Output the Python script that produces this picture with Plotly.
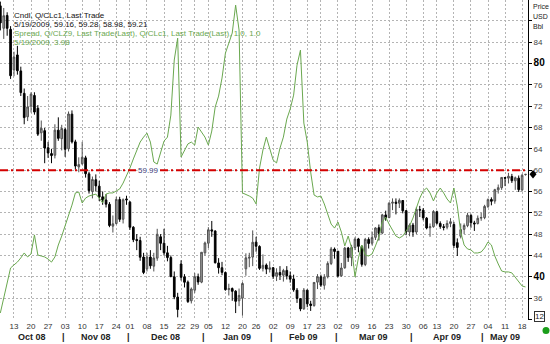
import math
import pandas as pd
import plotly.graph_objects as go

# ---------------- data ----------------
holidays = ["2008-11-27", "2008-12-25", "2009-01-01", "2009-01-19", "2009-02-16", "2009-04-10"]
dates = [d.strftime("%Y-%m-%d") for d in pd.bdate_range("2008-10-07", "2009-05-19")
         if d.strftime("%Y-%m-%d") not in holidays]

opens = [
    90.8, 86.6, 89.0, 86.4, 78.8, 81.6, 78.6, 74.4, 70.0, 72.0, 74.0, 71.6, 67.0, 67.4, 64.2, 63.1, 62.8, 67.5, 65.9,
    67.6, 64.0, 70.5, 65.3, 60.6, 61.2, 62.3, 59.3, 56.0, 58.2, 57.0, 55.0, 54.4, 53.6, 49.5, 50.0, 54.5, 50.8, 54.6,
    54.0, 49.3, 47.0, 46.8, 43.7, 41.5, 43.7, 42.0, 43.5, 47.5, 46.3, 44.5, 43.6, 40.0, 36.2, 42.4, 40.0, 39.0, 35.5, 37.5, 40.0, 39.0,
    44.5, 46.3, 48.8, 48.6, 42.6, 41.7, 40.8, 37.6, 37.8, 37.3, 35.5, 36.0, 41.5, 43.5, 43.7, 46.5, 45.7, 41.6, 42.2, 41.4,
    41.7, 40.1, 40.8, 40.3, 41.2, 40.2, 39.6, 37.5, 35.9, 34.0, 37.5, 34.9, 34.6, 39.0, 40.0, 38.4, 40.0, 42.5, 45.2,
    44.8, 40.2, 41.7, 45.4, 43.6, 45.5, 47.1, 45.7, 42.3, 47.0, 46.3, 47.4, 49.2, 48.2, 51.6, 51.1, 53.8, 54.0, 53.8, 54.3, 52.4, 48.4,
    49.7, 48.4, 52.6, 52.5, 51.0, 49.2, 49.4, 52.2, 50.0, 49.4, 49.3, 50.0, 49.8, 46.4, 47.6, 48.9, 49.6, 51.5, 50.1, 50.0, 51.0,
    51.1, 53.2, 54.5, 54.2, 56.3, 56.7, 58.6, 58.5, 58.8, 58.0, 58.5, 56.3, 59.16,
]
highs = [
    91.6, 90.4, 89.6, 87.0, 82.2, 83.3, 79.4, 75.3, 73.9, 74.6, 74.6, 72.2, 69.3, 67.9, 65.3, 64.0, 68.6, 69.9, 68.5,
    67.9, 71.0, 71.2, 65.7, 62.4, 65.3, 62.7, 59.7, 58.8, 59.2, 58.0, 56.0, 55.5, 54.0, 51.5, 55.0, 55.0, 54.7, 55.2,
    54.2, 49.5, 48.0, 47.5, 44.5, 44.5, 45.0, 44.5, 49.0, 48.0, 49.0, 45.8, 44.0, 41.0, 37.0, 43.1, 40.5, 39.3, 38.0, 40.7, 40.6, 44.6,
    46.6, 49.3, 50.47, 48.7, 43.5, 42.8, 41.0, 38.7, 38.0, 37.5, 37.8, 39.0, 44.4, 44.5, 48.7, 47.5, 45.9, 44.2, 42.5, 42.9,
    41.8, 41.6, 42.0, 41.5, 42.0, 41.0, 40.4, 37.9, 36.0, 37.9, 37.6, 35.5, 39.0, 40.5, 40.4, 40.5, 42.9, 45.6, 45.5,
    44.8, 42.6, 45.6, 45.6, 46.0, 47.4, 47.3, 45.9, 47.3, 47.4, 48.5, 49.3, 49.8, 51.8, 52.4, 54.0, 54.7, 54.7, 54.7, 54.4, 52.5, 50.0,
    50.1, 53.1, 53.3, 52.9, 51.2, 50.0, 52.5, 52.4, 50.4, 49.9, 50.6, 51.0, 50.3, 47.2, 50.0, 50.0, 52.0, 51.8, 50.5, 51.5, 52.0,
    53.5, 54.7, 54.9, 56.5, 57.3, 58.7, 58.7, 59.5, 59.3, 58.8, 59.0, 59.3, 59.28,
]
lows = [
    86.2, 84.6, 85.2, 77.1, 77.6, 77.9, 73.9, 68.6, 69.2, 70.8, 70.4, 66.4, 65.5, 61.3, 62.3, 61.3, 62.2, 65.5, 63.7,
    62.5, 63.5, 65.0, 60.1, 59.6, 61.0, 58.6, 55.6, 54.7, 56.0, 54.2, 53.5, 53.0, 49.3, 48.3, 49.8, 50.3, 50.0, 53.5,
    48.8, 46.5, 45.0, 43.0, 40.5, 41.0, 41.5, 41.0, 43.0, 45.0, 44.0, 42.9, 39.9, 35.8, 32.4, 39.3, 38.0, 35.1, 35.0, 37.0, 38.5, 38.8,
    44.0, 45.4, 47.5, 42.5, 40.6, 40.3, 37.4, 36.5, 35.5, 33.2, 34.5, 32.7, 40.2, 41.8, 42.0, 44.7, 41.3, 41.0, 40.5, 40.8,
    39.6, 39.2, 39.4, 39.1, 39.5, 38.9, 37.2, 35.1, 33.55, 33.8, 34.3, 33.6, 34.4, 37.7, 38.1, 37.6, 39.7, 42.2, 43.4,
    39.9, 40.0, 41.5, 42.8, 42.0, 45.0, 44.6, 41.9, 42.0, 45.3, 45.9, 46.9, 46.8, 48.0, 50.5, 51.0, 52.5, 51.7, 52.9, 51.9, 47.8, 47.6,
    47.5, 48.0, 51.2, 50.6, 48.9, 47.5, 49.2, 49.8, 49.0, 48.7, 48.9, 49.3, 45.4, 43.9, 47.2, 48.0, 49.3, 49.2, 48.6, 49.8, 50.5,
    50.8, 52.9, 53.4, 53.7, 55.6, 56.3, 57.0, 57.5, 57.6, 56.3, 55.9, 56.0, 58.98,
]
closes = [
    87.6, 88.95, 86.59, 77.70, 81.19, 78.63, 74.54, 69.85, 71.85, 74.25, 70.89, 66.75, 67.84, 64.15, 63.22, 62.73, 67.50, 65.96, 67.81,
    63.91, 70.53, 65.30, 60.77, 61.04, 62.41, 59.33, 56.16, 58.24, 57.04, 54.95, 54.39, 53.62, 49.62, 49.93, 54.50, 50.77, 54.44, 54.43,
    49.28, 46.96, 46.79, 43.67, 40.81, 43.71, 42.07, 43.52, 47.98, 46.28, 44.51, 43.60, 40.06, 36.22, 33.87, 39.91, 38.98, 35.35, 37.71, 40.02, 39.03, 44.60,
    46.34, 48.81, 48.58, 42.63, 41.70, 40.83, 37.59, 37.78, 37.28, 35.40, 36.51, 38.74, 43.55, 43.67, 46.47, 45.73, 41.58, 42.16, 41.44, 41.68,
    40.08, 40.78, 40.32, 41.17, 40.17, 39.56, 37.55, 35.94, 33.98, 37.51, 34.93, 34.62, 38.94, 40.03, 38.44, 39.96, 42.50, 45.22, 44.76,
    40.15, 41.65, 45.38, 43.61, 45.52, 47.07, 45.71, 42.33, 47.03, 46.25, 47.35, 49.16, 48.14, 51.61, 51.06, 53.80, 53.98, 53.77, 54.34, 52.38, 48.41, 49.66,
    48.39, 52.64, 52.51, 51.05, 49.15, 49.38, 52.24, 50.05, 49.41, 49.25, 50.00, 50.33, 45.88, 45.50, 48.85, 49.62, 51.55, 50.14, 49.92, 50.97, 51.12,
    53.20, 54.47, 54.16, 56.34, 56.71, 58.63, 58.50, 58.85, 58.02, 58.57, 56.34, 59.03, 59.21,
]
spread = [
    2.61, 3.40, 4.24, 4.98, 5.14, 5.29, 5.51, 5.77, 5.56, 5.72, 6.72, 5.66, 5.61, 5.56, 5.45, 5.29, 5.56, 6.19, 6.66,
    7.19, 7.77, 8.29, 8.93, 8.98, 8.40, 8.66, 8.77, 8.82, 8.87, 8.66, 8.40, 8.87, 8.93, 8.93, 9.03, 9.14, 9.45, 9.82,
    10.24, 10.72, 11.19, 11.61, 11.87, 12.08, 11.61, 10.56, 10.45, 11.08, 11.66, 11.87, 13.03, 15.93, 17.08, 10.82, 11.14, 11.51, 11.61, 11.45, 12.40, 12.14,
    11.87, 11.45, 12.19, 13.45, 14.03, 14.98, 16.29, 16.82, 17.35, 18.82, 17.51, 8.93, 8.87, 8.77, 8.66, 8.35, 10.24, 11.19, 11.87, 11.19,
    10.66, 10.51, 11.29, 11.87, 12.82, 13.35, 14.08, 15.66, 16.45, 12.61, 11.61, 10.03, 8.82, 8.72, 8.77, 8.35, 7.82, 7.29, 7.08,
    7.40, 6.87, 6.14, 6.66, 6.03, 4.51, 5.51, 6.19, 5.66, 5.61, 5.72, 6.14, 6.61, 7.40, 7.66, 7.29, 6.98, 6.66, 6.56, 6.66, 6.93, 7.19,
    7.61, 8.14, 8.66, 9.03, 9.19, 8.93, 8.51, 8.93, 9.19, 8.93, 8.61, 8.40, 9.19, 8.24, 6.87, 6.19, 5.98, 5.93, 5.77, 5.77, 5.82,
    6.03, 6.35, 6.19, 5.61, 5.19, 4.82, 4.77, 4.77, 4.72, 4.51, 4.24, 4.03, 3.98,
]
assert len(dates) == len(opens) == len(highs) == len(lows) == len(closes) == len(spread)

week_ticks = ["2008-10-13", "2008-10-20", "2008-10-27", "2008-11-03", "2008-11-10", "2008-11-17", "2008-11-24",
              "2008-12-01", "2008-12-08", "2008-12-15", "2008-12-22", "2008-12-29", "2009-01-05", "2009-01-12",
              "2009-01-20", "2009-01-26", "2009-02-02", "2009-02-09", "2009-02-17", "2009-02-23", "2009-03-02",
              "2009-03-09", "2009-03-16", "2009-03-23", "2009-03-30", "2009-04-06", "2009-04-13", "2009-04-20",
              "2009-04-27", "2009-05-04", "2009-05-11", "2009-05-18"]
week_labels = ["13", "20", "27", "03", "10", "17", "24", "01", "08", "15", "22", "29", "05", "12", "20", "26",
               "02", "09", "17", "23", "02", "09", "16", "23", "30", "06", "13", "20", "27", "04", "11", "18"]
month_names = ["Oct 08", "Nov 08", "Dec 08", "Jan 09", "Feb 09", "Mar 09", "Apr 09", "May 09"]

price_ticks = [32, 36, 40, 44, 48, 52, 56, 60, 64, 68, 72, 76, 80, 84, 88]
price_labels = ["", "36", "<span style='font-size:10px;color:#000'><b>40</b></span>", "44", "48", "52", "56", "60",
                "64", "68", "72", "76", "<span style='font-size:10px;color:#000'><b>80</b></span>", "84", ""]

ref_level = 59.99
legend_price = ["Cndl, Q/CLc1, Last Trade", "5/19/2009, 59.16, 59.28, 58.98, 59.21"]
legend_spread = ["Spread, Q/CLZ9, Last Trade(Last), Q/CLc1, Last Trade(Last), 1.0, 1.0", "5/19/2009, 3.98"]
unit_lines = ["Price", "USD", "Bbl"]

# ---------------- helpers ----------------
def at(k):
    if k < 0:
        base, frac = pd.Timestamp(dates[0]), k
    else:
        base = pd.Timestamp(dates[int(math.floor(k))])
        frac = k - math.floor(k)
    return (base + pd.Timedelta(days=frac)).strftime("%Y-%m-%d %H:%M:%S")

k_start, k_end = -0.1, len(dates) - 1 + 0.73
month_first = [k for k, d in enumerate(dates) if k == 0 or d[:7] != dates[k - 1][:7]]
seps = [k - 0.5 for k in month_first[1:]]
bounds = [k_start] + seps + [k_end]
centers = [(bounds[j] + bounds[j + 1]) / 2 for j in range(len(bounds) - 1)]

FONT = "Liberation Sans, Arial, sans-serif"
GREEN = "#6aa84f"
PW, PH = 528, 320  # plot size in px

fig = go.Figure()
fig.add_trace(go.Candlestick(
    x=dates, open=opens, high=highs, low=lows, close=closes,
    increasing=dict(line=dict(color="#505050", width=1), fillcolor="#a4a4a4"),
    decreasing=dict(line=dict(color="#000000", width=1), fillcolor="#000000"),
    whiskerwidth=0, hoverinfo="skip", showlegend=False,
))
fig.add_trace(go.Scatter(
    x=dates, y=spread, yaxis="y2", mode="lines",
    line=dict(color=GREEN, width=1), hoverinfo="skip", showlegend=False,
))

annotations = []
for j, (t1, col) in enumerate([(legend_price[0], "#111"), (legend_price[1], "#111"),
                               (legend_spread[0], GREEN), (legend_spread[1], GREEN)]):
    ypx = [15.7, 24.5, 33.5, 42.4][j]
    annotations.append(dict(text=t1, xref="paper", yref="paper", x=12 / PW, y=1 - ypx / PH,
                            xanchor="left", yanchor="middle", showarrow=False,
                            font=dict(family=FONT, size=8, color=col)))
for j, t1 in enumerate(unit_lines):
    annotations.append(dict(text=t1, xref="paper", yref="paper", x=531 / PW, y=1 - [7, 17, 27][j] / PH,
                            xanchor="left", yanchor="middle", showarrow=False,
                            font=dict(family=FONT, size=7, color="#222")))
annotations.append(dict(text=f"{ref_level:.2f}", xref="paper", yref="y", x=148 / PW, y=ref_level,
                        xanchor="center", yanchor="middle", showarrow=False, bgcolor="white", borderpad=0,
                        font=dict(family=FONT, size=8, color="#3a3a78")))
for name, c in zip(month_names, centers):
    annotations.append(dict(text=f"<b>{name}</b>", xref="x", yref="paper", x=at(c), y=-17 / PH,
                            xanchor="center", yanchor="middle", showarrow=False,
                            font=dict(family=FONT, size=9, color="#222")))
for s in seps:
    annotations.append(dict(text="<b>|</b>", xref="x", yref="paper", x=at(s), y=-17 / PH,
                            xanchor="center", yanchor="middle", showarrow=False,
                            font=dict(family=FONT, size=9, color="#222")))
annotations.append(dict(text="12", xref="paper", yref="paper", x=539.5 / PW, y=1 - 316 / PH,
                        xanchor="center", yanchor="middle", showarrow=False,
                        bordercolor="#333", borderwidth=1, borderpad=0,
                        font=dict(family=FONT, size=8, color="#222")))

last = closes[-1]
dx, dy = 3.5 / PW, 0.8
x0 = 533 / PW
shapes = [
    dict(type="line", xref="paper", yref="y", x0=0, x1=1, y0=ref_level, y1=ref_level,
         line=dict(color="#d40000", width=2, dash="8px,3px,2px,3px")),
    dict(type="path", xref="paper", yref="y",
         path=f"M {x0},{last + dy} L {x0 + dx},{last} L {x0},{last - dy} L {x0 - dx},{last} Z",
         fillcolor="black", line=dict(color="black", width=0)),
    dict(type="circle", xref="paper", yref="paper",
         x0=542.5 / PW, x1=549.5 / PW, y0=1 - 334 / PH, y1=1 - 327 / PH,
         fillcolor="#1a9e1a", line=dict(color="#1a9e1a", width=0)),
]

fig.update_layout(
    width=550, height=344,
    margin=dict(l=0, r=550 - PW, t=0, b=344 - PH),
    paper_bgcolor="white", plot_bgcolor="white",
    showlegend=False, hovermode=False,
    font=dict(family=FONT, size=8, color="#333"),
    annotations=annotations, shapes=shapes,
    xaxis=dict(
        type="date", range=[at(k_start), at(k_end)],
        rangebreaks=[dict(bounds=["sat", "mon"]), dict(values=holidays)],
        rangeslider=dict(visible=False),
        tickmode="array", tickvals=week_ticks, ticktext=week_labels,
        showgrid=True, gridcolor="#b4b4b4", gridwidth=1, griddash="2px,2px",
        ticks="", showline=False, zeroline=False,
        tickfont=dict(family=FONT, size=8, color="#333"),
    ),
    yaxis=dict(
        side="right", range=[31.9, 91.9],
        tickmode="array", tickvals=price_ticks, ticktext=price_labels,
        ticks="outside", ticklen=3, tickcolor="#000",
        showline=True, linecolor="#000", linewidth=1,
        showgrid=True, gridcolor="#b4b4b4", gridwidth=1, griddash="2px,2px",
        zeroline=False, tickfont=dict(family=FONT, size=8, color="#444"),
    ),
    yaxis2=dict(overlaying="y", range=[2.24, 19.09], visible=False),
)

fig.write_html("out.html")
